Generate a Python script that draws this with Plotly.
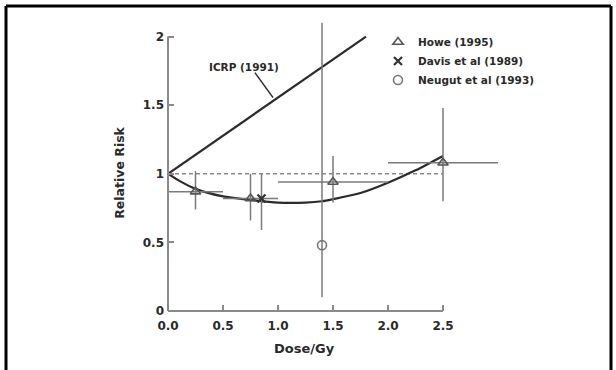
import plotly.graph_objects as go

# ---- data ----
howe_x = [0.25, 0.75, 1.5, 2.5]
howe_y = [0.87, 0.82, 0.94, 1.08]
howe_x_lo = [0.25, 0.25, 0.5, 0.5]
howe_x_hi = [0.25, 0.25, 0.5, 0.5]
howe_y_up = [1.02, 1.00, 1.13, 1.48]
howe_y_low = [0.74, 0.66, 0.79, 0.80]

davis_x = [0.85]
davis_y = [0.82]
davis_y_up = [1.00]
davis_y_low = [0.59]

neugut_x = [1.4]
neugut_y = [0.48]
neugut_y_up = [2.10]
neugut_y_low = [0.10]

fit_x = [0.0, 0.1, 0.25, 0.5, 0.75, 1.0, 1.25, 1.4, 1.5, 1.75, 2.0, 2.25, 2.5]
fit_y = [1.0, 0.95, 0.89, 0.835, 0.81, 0.79, 0.79, 0.80, 0.815, 0.86, 0.935, 1.025, 1.13]

icrp_x = [0.0, 1.8]
icrp_y = [1.0, 2.0]

ref_x = [0.0, 2.5]
ref_y = [1.0, 1.0]

x_ticks = [0.0, 0.5, 1.0, 1.5, 2.0, 2.5]
x_ticktext = ["0.0", "0.5", "1.0", "1.5", "2.0", "2.5"]
y_ticks = [0, 0.5, 1, 1.5, 2]
y_ticktext = ["0", "0.5", "1", "1.5", "2"]

labels = ["Howe (1995)", "Davis et al (1989)", "Neugut et al (1993)"]

# ---- layout geometry (pixels) ----
W, H = 616, 370
L, R = 168, 520          # plot area left/right px
B, T = 311, 16.45        # plot area bottom/top px
XR = [0, 3.2]
YR = [0, 2.15]

def px_to_paper_x(px):
    return (px - L) / (R - L)

def px_to_paper_y(py):
    return (B - py) / (B - T)

FONT = "DejaVu Sans"
TXT = "#2a2a2a"
ERR = "#7a7a7a"
LINE = "#2b2b2b"

def yerr(y, up, low):
    return dict(type="data", symmetric=False,
                array=[u - v for u, v in zip(up, y)],
                arrayminus=[v - l for v, l in zip(y, low)],
                color=ERR, thickness=1.5, width=0)

fig = go.Figure()

# reference dashed line at RR = 1
fig.add_trace(go.Scatter(x=ref_x, y=ref_y, mode="lines", showlegend=False,
                         line=dict(color="#8a8a8a", width=1.5, dash="4px,3px")))
# ICRP line
fig.add_trace(go.Scatter(x=icrp_x, y=icrp_y, mode="lines", showlegend=False,
                         line=dict(color=LINE, width=2.2)))
# fitted curve
fig.add_trace(go.Scatter(x=fit_x, y=fit_y, mode="lines", showlegend=False,
                         line=dict(color=LINE, width=2.2, shape="spline", smoothing=0.8)))

fig.add_trace(go.Scatter(
    x=howe_x, y=howe_y, mode="markers", name=labels[0],
    marker=dict(symbol="triangle-up-open", size=9, color="#555555", line=dict(width=1.6)),
    error_x=dict(type="data", symmetric=False, array=howe_x_hi, arrayminus=howe_x_lo,
                 color=ERR, thickness=1.5, width=0),
    error_y=yerr(howe_y, howe_y_up, howe_y_low), cliponaxis=False))
fig.add_trace(go.Scatter(
    x=davis_x, y=davis_y, mode="markers", name=labels[1],
    marker=dict(symbol="x-thin-open", size=8, color="#333333", line=dict(width=2.2)),
    error_y=yerr(davis_y, davis_y_up, davis_y_low), cliponaxis=False))
fig.add_trace(go.Scatter(
    x=neugut_x, y=neugut_y, mode="markers", name=labels[2],
    marker=dict(symbol="circle-open", size=9, color="#777777", line=dict(width=1.6)),
    error_y=yerr(neugut_y, neugut_y_up, neugut_y_low), cliponaxis=False))

fx0, fx1 = px_to_paper_x(6), px_to_paper_x(611)
fy_top, fy_bot = px_to_paper_y(6.5), px_to_paper_y(372)

shapes = [
    # x axis line (0 -> 2.5)
    dict(type="line", xref="x", yref="paper", x0=0, x1=2.5, y0=0, y1=0,
         line=dict(color="#8a8a8a", width=2)),
    # y axis line (0 -> 2)
    dict(type="line", xref="paper", yref="y", x0=0, x1=0, y0=0, y1=2,
         line=dict(color="#8a8a8a", width=2)),
    # ICRP pointer
    dict(type="line", xref="x", yref="y", x0=0.79, y0=1.737, x1=0.955, y1=1.555,
         line=dict(color=LINE, width=1.5)),
    # outer frame: left, top, right (open at the bottom)
    dict(type="line", xref="paper", yref="paper", x0=fx0, x1=fx0, y0=fy_bot, y1=fy_top,
         line=dict(color="black", width=3)),
    dict(type="line", xref="paper", yref="paper", x0=fx0, x1=fx1, y0=fy_top, y1=fy_top,
         line=dict(color="black", width=3)),
    dict(type="line", xref="paper", yref="paper", x0=fx1, x1=fx1, y0=fy_bot, y1=fy_top,
         line=dict(color="black", width=3)),
]

annotations = [
    dict(text="ICRP (1991)", x=0.69, y=1.78, xref="x", yref="y", showarrow=False,
         xanchor="center", yanchor="middle",
         font=dict(family=FONT, size=10.5, color=TXT, weight="bold")),
    dict(text="Relative Risk", x=px_to_paper_x(120), y=px_to_paper_y(173),
         xref="paper", yref="paper", showarrow=False, textangle=-90,
         xanchor="center", yanchor="middle",
         font=dict(family=FONT, size=12.5, color=TXT, weight="bold")),
    dict(text="Dose/Gy", x=px_to_paper_x(304), y=px_to_paper_y(348),
         xref="paper", yref="paper", showarrow=False,
         xanchor="center", yanchor="middle",
         font=dict(family=FONT, size=13, color=TXT, weight="bold")),
]

fig.update_layout(
    width=W, height=H,
    margin=dict(l=L, r=W - R, t=T, b=H - B, pad=0),
    paper_bgcolor="white", plot_bgcolor="white",
    shapes=shapes, annotations=annotations,
    showlegend=True,
    legend=dict(x=px_to_paper_x(378), y=px_to_paper_y(28), xanchor="left", yanchor="top",
                bgcolor="rgba(0,0,0,0)", borderwidth=0,
                font=dict(family=FONT, size=10.5, color=TXT, weight="bold")),
    xaxis=dict(range=XR, tickvals=x_ticks, ticktext=x_ticktext, ticks="inside",
               ticklen=6, tickwidth=1.5, tickcolor="#8a8a8a", showgrid=False,
               zeroline=False, showline=False, ticklabelstandoff=6,
               tickfont=dict(family=FONT, size=12, color=TXT, weight="bold")),
    yaxis=dict(range=YR, tickvals=y_ticks, ticktext=y_ticktext, ticks="inside",
               ticklen=6, tickwidth=1.5, tickcolor="#8a8a8a", showgrid=False,
               zeroline=False, showline=False, ticklabelstandoff=3,
               tickfont=dict(family=FONT, size=12, color=TXT, weight="bold")),
)

fig.write_html("out.html")
